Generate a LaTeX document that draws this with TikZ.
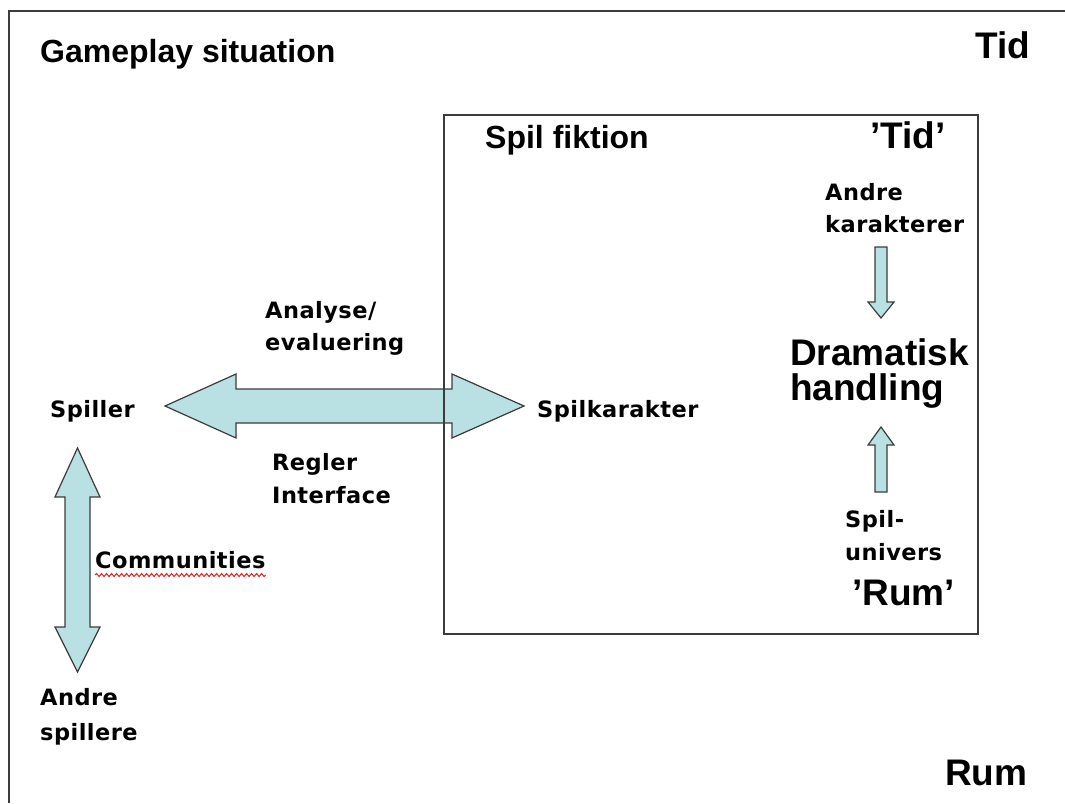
\documentclass[tikz,border=0pt]{standalone}
\usepackage{fontspec}
\setmainfont{Liberation Sans}
\newfontfamily\smallfont[LetterSpace=2]{DejaVu Sans}
\usetikzlibrary{calc,decorations.pathmorphing}
\definecolor{arrowfill}{RGB}{185,224,226}
\definecolor{edgegray}{RGB}{60,60,60}
\definecolor{spellred}{RGB}{230,30,30}
\begin{document}
\begin{tikzpicture}[x=1pt,y=-1pt,
  big/.style={font=\fontsize{37}{40}\selectfont\bfseries, inner sep=0pt, anchor=base west},
  title/.style={font=\fontsize{32}{36}\selectfont\bfseries, inner sep=0pt, anchor=base west},
  lbl/.style={font=\smallfont\fontsize{22.5}{26}\selectfont\bfseries, inner sep=0pt, anchor=base west},
  blockarrow/.style={fill=arrowfill, draw=edgegray, line width=1.2pt, line join=miter},
  framestyle/.style={draw=edgegray, line width=1.5pt}]
\useasboundingbox (0,0) rectangle (1065,803);
\fill[white] (0,0) rectangle (1065,803);

% outer frame (open to the right and bottom)
\draw[framestyle] (9,803) -- (9,11) -- (1065,11);

% titles
\node[title] (gameplay) at (40,62) {Gameplay situation};
\node[big] (tid) at (975,58) {Tid};
\node[big] (rum) at (945,785) {Rum};

% block arrows (connector ends)
\coordinate (spL) at (165,406);
\coordinate (spR) at (524,406);
\draw[blockarrow] (spL) -- ++(71,-32) -- ++(0,15) -- ++(216,0) -- ++(0,-15)
  -- (spR) -- ++(-72,32) -- ++(0,-15) -- ++(-216,0) -- ++(0,15) -- cycle;

\coordinate (commT) at (77.5,448);
\coordinate (commB) at (77.5,672);
\draw[blockarrow] (commT) -- ++(22.5,49) -- ++(-10,0) -- ++(0,130) -- ++(10,0)
  -- (commB) -- ++(-22.5,-45) -- ++(10,0) -- ++(0,-130) -- ++(-10,0) -- cycle;

\coordinate (karT) at (881,247);
\coordinate (karTip) at (881,318);
\draw[blockarrow] ($(karT)+(-6,0)$) -- ++(12,0) -- ++(0,55) -- ++(7,0)
  -- (karTip) -- ++(-13,-16) -- ++(7,0) -- cycle;

\coordinate (uniTip) at (881,427);
\coordinate (uniB) at (881,492);
\draw[blockarrow] (uniTip) -- ++(13,18) -- ++(-7,0) -- ++(0,47) -- ++(-12,0)
  -- ++(0,-47) -- ++(-7,0) -- cycle;

% inner box (drawn over the arrow)
\draw[framestyle] (444,115) rectangle (978,634);
\node[title] (fiktion) at (485,148) {Spil fiktion};
\node[big] (tidq) at (870,148) {’Tid’};

% right column
\node[lbl] (andreK1) at (825,200) {Andre};
\node[lbl] (andreK2) at (825,232) {karakterer};
\node[big] (drama1) at (790,365) {Dramatisk};
\node[big] (drama2) at (790,400) {handling};
\node[lbl] (univ1) at (845,527) {Spil-};
\node[lbl] (univ2) at (845,560) {univers};
\node[big] (rumq) at (852,605) {’Rum’};

% left / middle labels
\node[lbl] (spiller) at (50,417) {Spiller};
\node[lbl] (spilkar) at (537,417) {Spilkarakter};
\node[lbl] (analyse1) at (265,318) {Analyse/};
\node[lbl] (analyse2) at (265,350) {evaluering};
\node[lbl] (regler1) at (272,470) {Regler};
\node[lbl] (regler2) at (272,503) {Interface};
\node[lbl] (comm) at (95,568) {Communities};
\draw[spellred, line width=1pt, decorate,
  decoration={snake, amplitude=1.5pt, segment length=5pt}]
  ($(comm.base west)+(0,7)$) -- ($(comm.base east)+(0,7)$);
\node[lbl] (andreS1) at (40,705) {Andre};
\node[lbl] (andreS2) at (40,740) {spillere};
\end{tikzpicture}
\end{document}
